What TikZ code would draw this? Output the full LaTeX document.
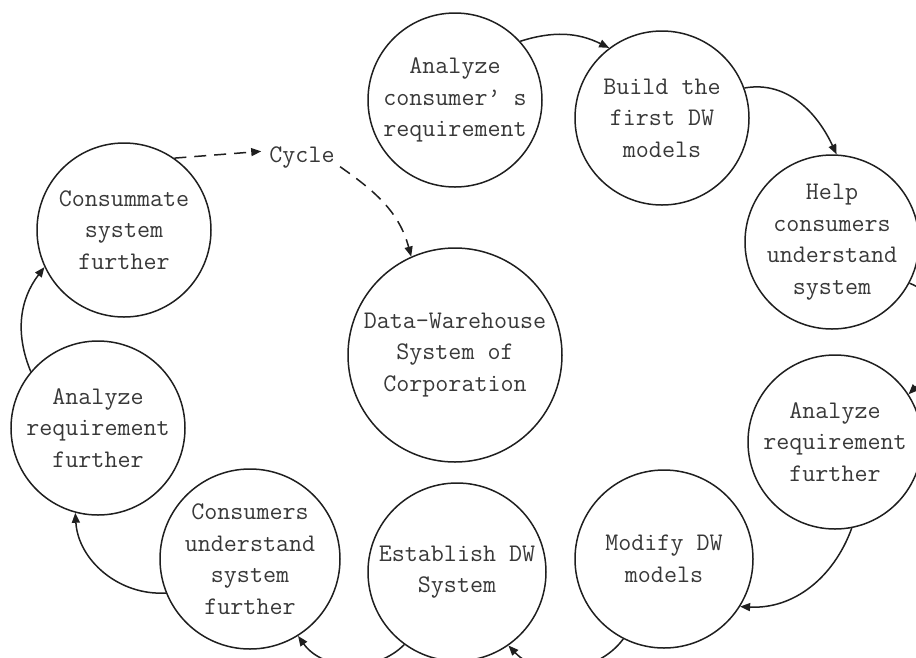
\documentclass[tikz,border=0pt]{standalone}
\usepackage{fontspec}
\usetikzlibrary{arrows.meta}
\begin{document}
\begin{tikzpicture}[x=1pt,y=1pt,
  txt/.style={text=black!78, font=\fontsize{25.3}{31.5}\selectfont\ttfamily},
  stage/.style={txt, draw=black!88, line width=1.5pt, circle, minimum size=174pt, inner sep=0pt, align=center},
  flow/.style={draw=black!88, line width=1.5pt, -{Triangle[length=10pt,width=8pt]}},
  cyc/.style={flow, dash pattern=on 12pt off 8pt}]
\useasboundingbox (0,0) rectangle (916,-657);
\node[stage] (c1) at (455,-100) {Analyze\\consumer’ s\\requirement};
\node[stage] (c2) at (662,-118) {Build the\\first DW\\models};
\node[stage] (c3) at (832,-242) {Help\\consumers\\understand\\system};
\node[stage] (c4) at (835,-442) {Analyze\\requirement\\further};
\node[stage, minimum size=178pt] (c5) at (664,-559) {Modify DW\\models};
\node[stage, minimum size=178pt] (c6) at (457,-572) {Establish DW\\System};
\node[stage, minimum size=180pt] (c7) at (250,-559) {Consumers\\understand\\system\\further};
\node[stage] (c8) at (98,-428) {Analyze\\requirement\\further};
\node[stage] (c9) at (124,-230) {Consummate\\system\\further};
\node[stage, minimum size=214pt] (cc) at (455,-355) {Data-Warehouse\\System of\\Corporation};
\node[txt, inner sep=2pt] (cy) at (302,-157) {Cycle};

\draw[flow] (c1.42) to[bend left=22] (c2.127);
\draw[flow] (c2.20) to[out=10, in=115] (c3.87);
\draw[flow] (c3.-28) to[out=-20, in=45] (c4.33);
\draw[flow] (c4.-79) to[out=-110, in=-3] (c5.-32);
\draw[flow] (c5.243) to[bend left=50] (c6.-55);
\draw[flow] (c6.234) to[bend left=50] (c7.-58);
\draw[flow] (c7.202) to[bend left=45] (c8.255);
\draw[flow] (c8.140) to[bend left=30] (c9.205);
\draw[cyc, shorten >=6pt] (c9.55) -- (cy.170);
\draw[cyc, shorten <=4pt] (cy.-12) to[out=-35, in=105] (cc.114);
\end{tikzpicture}
\end{document}
